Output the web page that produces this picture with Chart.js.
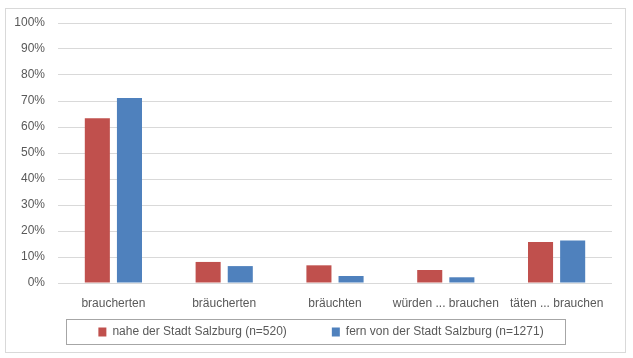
<!DOCTYPE html>
<html><head><meta charset="utf-8">
<script src="https://cdn.jsdelivr.net/npm/chart.js@4/dist/chart.umd.min.js"></script>
<style>
html,body{margin:0;padding:0;background:#fff;}
#wrap{position:relative;width:633px;height:358px;}
#frame{position:absolute;left:5px;top:8px;width:619px;height:343px;border:1px solid #d9d9d9;}
canvas{position:absolute;left:0;top:0;}
</style></head>
<body>
<div id="wrap"><div id="frame"></div><canvas id="c" width="633" height="358"></canvas></div>
<script>
const categories = ["braucherten", "bräucherten", "bräuchten", "würden ... brauchen", "täten ... brauchen"];
const seriesNames = ["nahe der Stadt Salzburg (n=520)", "fern von der Stadt Salzburg (n=1271)"];
const nahe = [63.4, 8.1, 6.8, 5.0, 15.8];
const fern = [71.2, 6.5, 2.7, 2.2, 16.3];
const yTicks = [0,10,20,30,40,50,60,70,80,90,100];

const txt = '#595959';
const FONT = { family: 'Liberation Sans, Arial, sans-serif', size: 12 };
const legendBox = {
  id: 'legendBox',
  afterDraw(chart) {
    const lg = chart.legend;
    if (!lg || !lg.legendHitBoxes || !lg.legendHitBoxes.length) return;
    const hb = lg.legendHitBoxes;
    let minX = Infinity, maxX = -Infinity, cy = 0;
    hb.forEach(b => { minX = Math.min(minX, b.left); maxX = Math.max(maxX, b.left + b.width); cy += b.top + b.height/2; });
    cy /= hb.length;
    const left = Math.round(minX - 32), right = Math.round(maxX + 21);
    const ctx = chart.ctx;
    ctx.save();
    ctx.strokeStyle = '#a6a6a6';
    ctx.lineWidth = 1;
    ctx.strokeRect(left + 0.5, Math.round(cy - 13) + 0.5, right - left, 25);
    ctx.restore();
  }
};

new Chart(document.getElementById('c'), {
  type: 'bar',
  data: {
    labels: categories,
    datasets: [
      { label: seriesNames[0], data: nahe, backgroundColor: '#C0504D', borderWidth: 0 },
      { label: seriesNames[1], data: fern, backgroundColor: '#4F81BD', borderWidth: 0 }
    ]
  },
  options: {
    responsive: false,
    animation: false,
    devicePixelRatio: 1,
    categoryPercentage: 0.58,
    barPercentage: 0.78,
    layout: { padding: { top: 23, right: 0, bottom: 10, left: 9 } },
    plugins: {
      tooltip: { enabled: false },
      legend: {
        position: 'bottom',
        labels: {
          color: txt,
          font: FONT,
          boxWidth: 8, boxHeight: 9, padding: 15,
          generateLabels(chart) {
            const items = Chart.defaults.plugins.legend.labels.generateLabels(chart);
            items.forEach((it, i) => { if (i < items.length - 1) it.text = it.text + ' '.repeat(9); });
            return items;
          }
        }
      }
    },
    scales: {
      x: {
        afterFit(s) { s.height = 28; },
        grid: { display: false, drawTicks: false },
        border: { display: false },
        ticks: { color: txt, font: FONT, padding: 13, maxRotation: 0, autoSkip: false }
      },
      y: {
        min: 0, max: 100,
        afterFit(s) { s.width = 49; },
        afterBuildTicks(s) { s.ticks = yTicks.map(v => ({ value: v })); },
        grid: { color: '#d9d9d9', drawTicks: false },
        border: { display: false },
        ticks: { color: txt, font: FONT, padding: 13, callback: v => v + '%' }
      },
      yRight: {
        type: 'linear',
        position: 'right',
        afterFit(s) { s.width = 21; },
        grid: { display: false, drawTicks: false },
        border: { display: false },
        ticks: { display: false }
      }
    }
  },
  plugins: [legendBox]
});
</script>
</body></html>
